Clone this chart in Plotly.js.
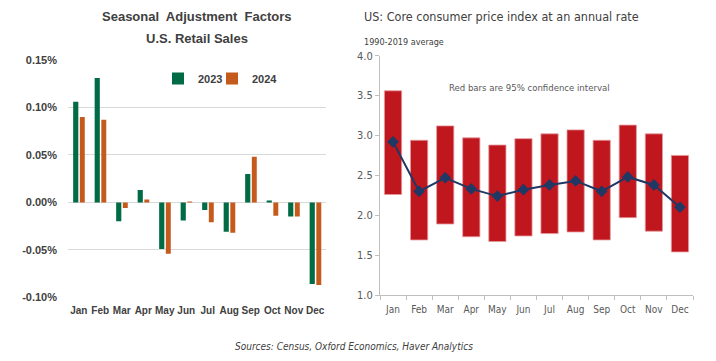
<!DOCTYPE html>
<html>
<head>
<meta charset="utf-8">
<script src="https://cdn.plot.ly/plotly-3.0.1.min.js"></script>
<style>
html,body{margin:0;padding:0;background:#fff;}
#chart{width:716px;height:361px;}
</style>
</head>
<body>
<div id="chart"></div>
<script>
// ---- data ----
var months = ['Jan','Feb','Mar','Apr','May','Jun','Jul','Aug','Sep','Oct','Nov','Dec'];
var seriesNames = ['2023','2024'];
var sa2023 = [0.106, 0.131, -0.020, 0.013, -0.049, -0.019, -0.008, -0.031, 0.030, 0.002, -0.015, -0.086];
var sa2024 = [0.090, 0.087, -0.006, 0.003, -0.054, 0.001, -0.021, -0.032, 0.048, -0.014, -0.015, -0.087];
var leftTickVals = [-0.10, -0.05, 0, 0.05, 0.10, 0.15];
var leftTickText = ['-0.10%', '-0.05%', '0.00%', '0.05%', '0.10%', '0.15%'];

var cpiMean = [2.92, 2.30, 2.47, 2.33, 2.24, 2.32, 2.38, 2.43, 2.30, 2.48, 2.38, 2.10];
var cpiLow  = [2.26, 1.69, 1.89, 1.73, 1.67, 1.74, 1.77, 1.79, 1.69, 1.97, 1.80, 1.54];
var cpiHigh = [3.56, 2.94, 3.12, 2.97, 2.88, 2.96, 3.02, 3.07, 2.94, 3.13, 3.02, 2.75];
var rightTickVals = [1.0, 1.5, 2.0, 2.5, 3.0, 3.5, 4.0];
var rightTickText = ['1.0', '1.5', '2.0', '2.5', '3.0', '3.5', '4.0'];

// ---- build ----
var W = 716, H = 361;
function px(x){ return x / W; }
function py(y){ return 1 - y / H; }

var narrow = '"DejaVu Sans Condensed", "Liberation Sans", sans-serif';
var sans = '"Liberation Sans", Arial, sans-serif';

var ciHeight = cpiHigh.map(function(h, i){ return h - cpiLow[i]; });

var traces = [
  {type:'bar', name:seriesNames[0], x:months, y:sa2023, xaxis:'x', yaxis:'y', legend:'legend',
   width:0.24, offset:-0.26, marker:{color:'#006B45'}},
  {type:'bar', name:seriesNames[1], x:months, y:sa2024, xaxis:'x', yaxis:'y', legend:'legend2',
   width:0.23, offset:0.05, marker:{color:'#C55A1D'}},
  {type:'bar', name:'95% CI', x:months, y:ciHeight, base:cpiLow, xaxis:'x2', yaxis:'y2',
   width:0.66, showlegend:false, marker:{color:'#C0161E', line:{color:'#E59A9E', width:0.8}}},
  {type:'scatter', mode:'lines+markers', name:'Average', x:months, y:cpiMean, xaxis:'x2', yaxis:'y2',
   showlegend:false, line:{color:'#1F3864', width:2}, marker:{symbol:'diamond', size:9, color:'#1F3864'}}
];

var legFont = {family:sans, size:11, color:'#404040', weight:'bold'};

var layout = {
  width: W, height: H,
  margin: {l:0, r:0, t:0, b:0},
  paper_bgcolor: '#ffffff', plot_bgcolor: 'rgba(0,0,0,0)',
  barmode: 'group',
  showlegend: true,
  legend: {orientation:'h', x:px(158), y:py(64), xanchor:'left', yanchor:'top',
           font:legFont, bgcolor:'rgba(0,0,0,0)'},
  legend2: {orientation:'h', x:px(212), y:py(64), xanchor:'left', yanchor:'top',
           font:legFont, bgcolor:'rgba(0,0,0,0)'},
  xaxis: {domain:[px(68), px(326)], anchor:'y', type:'category', range:[-0.5, 11.5],
          showgrid:false, showline:false, ticks:'', ticklabelstandoff:6, tickangle:0,
          tickfont:{family:sans, size:10, color:'#404040', weight:'bold'}},
  yaxis: {domain:[py(297.3), py(60)], anchor:'x', range:[-0.10, 0.15],
          tickvals:leftTickVals, ticktext:leftTickText,
          showgrid:true, gridcolor:'#D9D9D9', gridwidth:1,
          zeroline:true, zerolinecolor:'#D9D9D9', zerolinewidth:1,
          showline:false, ticks:'', ticklabelstandoff:10,
          tickfont:{family:sans, size:11, color:'#404040', weight:'bold'}},
  xaxis2: {domain:[px(380), px(693)], anchor:'y2', type:'category', range:[-0.5, 11.5],
           showgrid:false, showline:true, linecolor:'#BFBFBF', linewidth:1,
           ticks:'outside', tickson:'boundaries', ticklen:4, tickcolor:'#BFBFBF', tickangle:0,
           ticklabelstandoff:5,
           tickfont:{family:narrow, size:10, color:'#595959'}},
  yaxis2: {domain:[py(295), py(55.7)], anchor:'x2', range:[1, 4],
           tickvals:rightTickVals, ticktext:rightTickText,
           showgrid:false, zeroline:false, showline:true, linecolor:'#BFBFBF', linewidth:1,
           ticks:'outside', ticklen:4, tickcolor:'#BFBFBF',
           tickfont:{family:narrow, size:11, color:'#595959'}},
  annotations: [
    {xref:'paper', yref:'paper', x:px(197), y:py(17), xanchor:'center', yanchor:'middle', showarrow:false,
     text:'Seasonal  Adjustment  Factors', font:{family:sans, size:13, color:'#404040', weight:'bold'}},
    {xref:'paper', yref:'paper', x:px(197), y:py(39), xanchor:'center', yanchor:'middle', showarrow:false,
     text:'U.S. Retail Sales', font:{family:sans, size:13, color:'#404040', weight:'bold'}},
    {xref:'paper', yref:'paper', x:px(362), y:py(17), xanchor:'left', yanchor:'middle', showarrow:false,
     text:'US: Core consumer price index at an annual rate', font:{family:narrow, size:12.5, color:'#404040'}},
    {xref:'paper', yref:'paper', x:px(362), y:py(42), xanchor:'left', yanchor:'middle', showarrow:false,
     text:'1990-2019 average', font:{family:narrow, size:9, color:'#404040'}},
    {xref:'paper', yref:'paper', x:px(529), y:py(87), xanchor:'center', yanchor:'middle', showarrow:false,
     text:'Red bars are 95% confidence interval', font:{family:narrow, size:9.5, color:'#595959'}},
    {xref:'paper', yref:'paper', x:px(354), y:py(346), xanchor:'center', yanchor:'middle', showarrow:false,
     text:'<i>Sources: Census, Oxford Economics, Haver Analytics</i>', font:{family:narrow, size:10, color:'#404040'}}
  ]
};

Plotly.newPlot('chart', traces, layout, {displayModeBar:false, staticPlot:true});
</script>
</body>
</html>
